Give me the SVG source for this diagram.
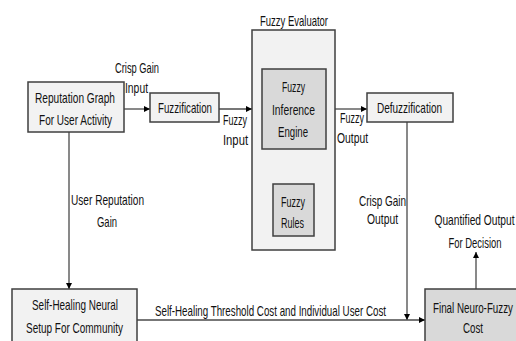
<svg xmlns="http://www.w3.org/2000/svg" width="516" height="341" viewBox="0 0 516 341">
  <defs>
    <marker id="arrow" viewBox="0 0 10 10" refX="10" refY="5" markerWidth="7" markerHeight="6" markerUnits="userSpaceOnUse" orient="auto">
      <path d="M0,0 L10,5 L0,10 z" fill="#000"/>
    </marker>
    <style>
      text { font-family: "Liberation Sans", Arial, sans-serif; font-size: 14.5px; fill: #111; text-anchor: middle; }
      .light { fill: #f2f2f2; stroke: #3f3f3f; stroke-width: 1.5; }
      .dark { fill: #d9d9d9; stroke: #3f3f3f; stroke-width: 1.5; }
      .link { fill: none; stroke: #4a4a4a; stroke-width: 1.3; marker-end: url(#arrow); }
    </style>
  </defs>
  <rect width="516" height="341" fill="#ffffff"/>

  <!-- connectors and their labels -->
  <g id="connectors">
    <path class="link" d="M124,109 H150"/>
    <path class="link" d="M219,109 H252"/>
    <path class="link" d="M335,109 H367"/>
    <path class="link" d="M292,184 V149"/>
    <path class="link" d="M69,132 V289"/>
    <path class="link" d="M407,122 V320"/>
    <path class="link" d="M137,320 H425"/>
    <path class="link" d="M476,289 V252"/>
    <text x="137" y="73" textLength="44" lengthAdjust="spacingAndGlyphs">Crisp Gain</text>
    <text x="136.5" y="93" textLength="23" lengthAdjust="spacingAndGlyphs">Input</text>
    <text x="235" y="125" textLength="24" lengthAdjust="spacingAndGlyphs">Fuzzy</text>
    <text x="235.5" y="145" textLength="25" lengthAdjust="spacingAndGlyphs">Input</text>
    <text x="352" y="123" textLength="24" lengthAdjust="spacingAndGlyphs">Fuzzy</text>
    <text x="352.5" y="143" textLength="31" lengthAdjust="spacingAndGlyphs">Output</text>
    <text x="107.5" y="205" textLength="73" lengthAdjust="spacingAndGlyphs">User Reputation</text>
    <text x="107" y="227" textLength="20" lengthAdjust="spacingAndGlyphs">Gain</text>
    <text x="382.5" y="206" textLength="47" lengthAdjust="spacingAndGlyphs">Crisp Gain</text>
    <text x="382.5" y="224" textLength="31" lengthAdjust="spacingAndGlyphs">Output</text>
    <text x="474.5" y="225" textLength="80" lengthAdjust="spacingAndGlyphs">Quantified Output</text>
    <text x="475" y="248" textLength="53" lengthAdjust="spacingAndGlyphs">For Decision</text>
    <text x="270.5" y="316" textLength="231" lengthAdjust="spacingAndGlyphs">Self-Healing Threshold Cost and Individual User Cost</text>
  </g>

  <g id="reputation-graph">
    <rect class="light" x="28" y="82" width="96" height="50"/>
    <text x="75" y="103" textLength="80" lengthAdjust="spacingAndGlyphs">Reputation Graph</text>
    <text x="75.5" y="125" textLength="73" lengthAdjust="spacingAndGlyphs">For User Activity</text>
  </g>

  <g id="fuzzification">
    <rect class="light" x="150" y="93" width="69" height="29"/>
    <text x="185" y="113" textLength="54" lengthAdjust="spacingAndGlyphs">Fuzzification</text>
  </g>

  <g id="fuzzy-evaluator">
    <text x="294" y="26" textLength="68" lengthAdjust="spacingAndGlyphs">Fuzzy Evaluator</text>
    <rect class="light" x="252" y="30" width="83" height="220"/>
  </g>

  <g id="inference-engine">
    <rect class="dark" x="262" y="69" width="64" height="80"/>
    <text x="293.5" y="92" textLength="23" lengthAdjust="spacingAndGlyphs">Fuzzy</text>
    <text x="293.5" y="115" textLength="43" lengthAdjust="spacingAndGlyphs">Inference</text>
    <text x="293" y="137" textLength="30" lengthAdjust="spacingAndGlyphs">Engine</text>
  </g>

  <g id="fuzzy-rules">
    <rect class="dark" x="273" y="184" width="41" height="52"/>
    <text x="293" y="207" textLength="24" lengthAdjust="spacingAndGlyphs">Fuzzy</text>
    <text x="292.5" y="228" textLength="23" lengthAdjust="spacingAndGlyphs">Rules</text>
  </g>

  <g id="defuzzification">
    <rect class="light" x="367" y="93" width="86" height="29"/>
    <text x="409.5" y="113" textLength="65" lengthAdjust="spacingAndGlyphs">Defuzzification</text>
  </g>

  <g id="self-healing">
    <rect class="light" x="12" y="289" width="125" height="60"/>
    <text x="75" y="310" textLength="86" lengthAdjust="spacingAndGlyphs">Self-Healing Neural</text>
    <text x="74.5" y="333" textLength="97" lengthAdjust="spacingAndGlyphs">Setup For Community</text>
  </g>

  <g id="final-cost">
    <rect class="dark" x="425" y="289" width="100" height="60"/>
    <text x="473" y="313" textLength="80" lengthAdjust="spacingAndGlyphs">Final Neuro-Fuzzy</text>
    <text x="473" y="333" textLength="20" lengthAdjust="spacingAndGlyphs">Cost</text>
  </g>
</svg>
